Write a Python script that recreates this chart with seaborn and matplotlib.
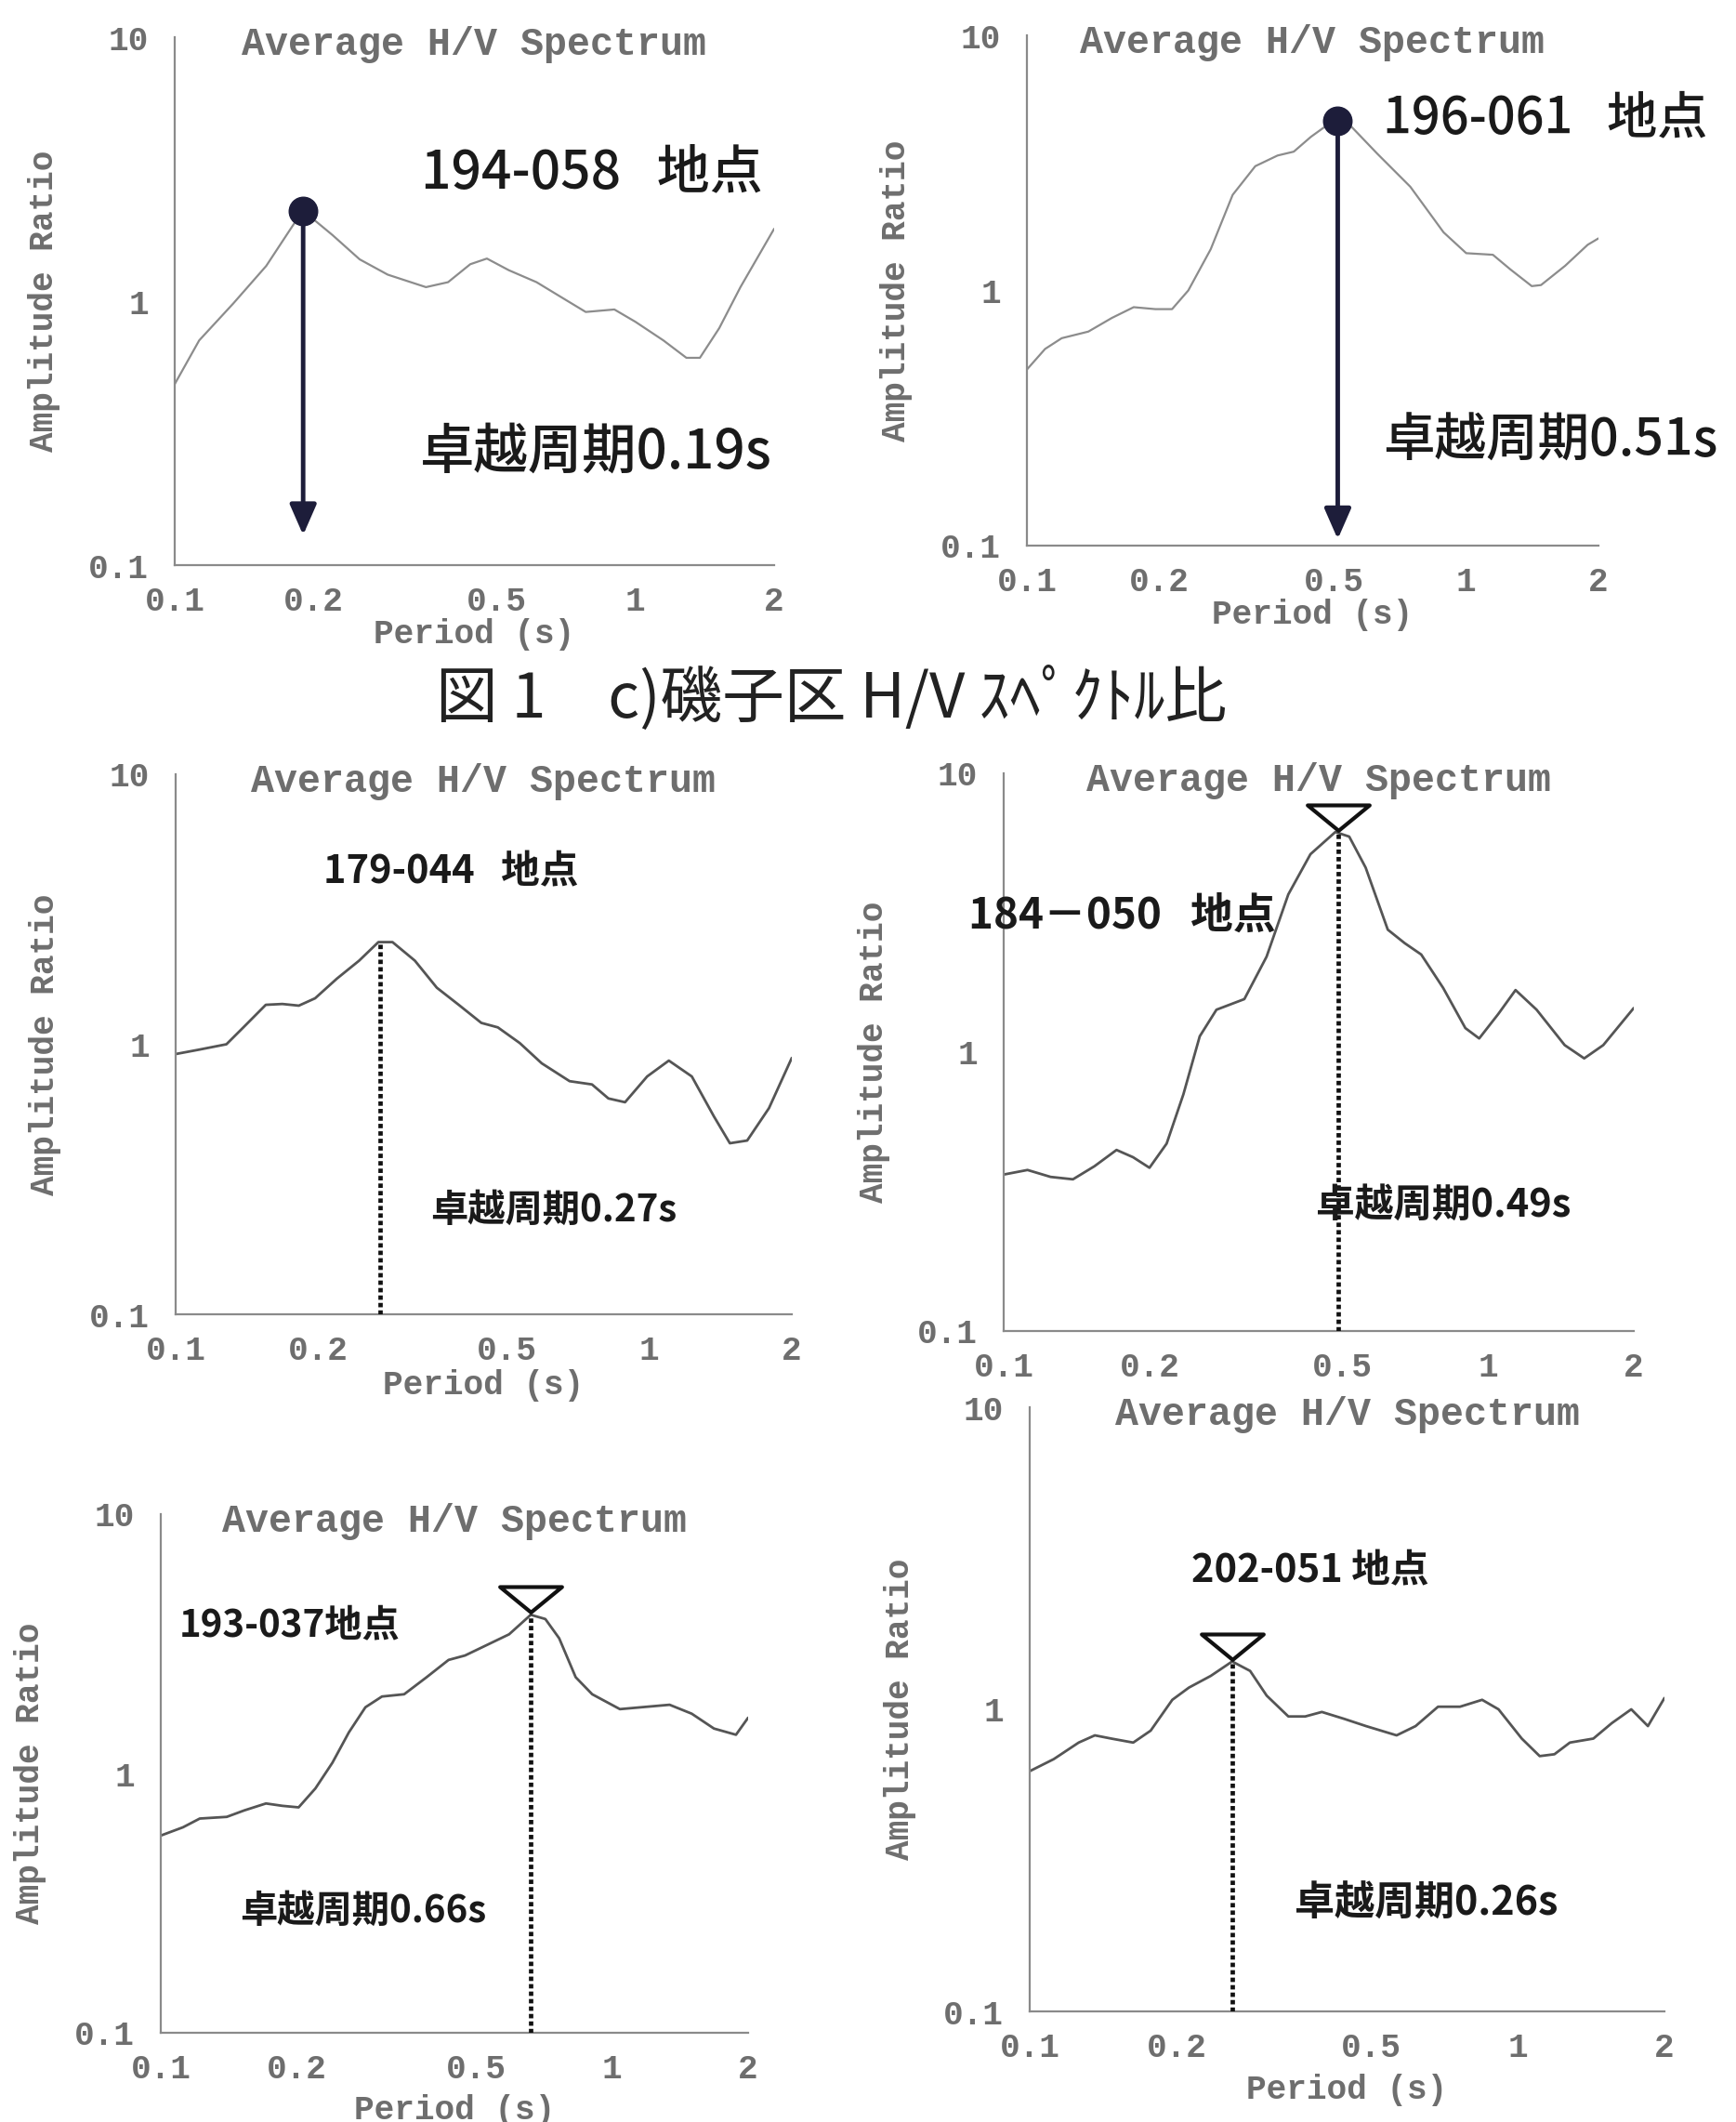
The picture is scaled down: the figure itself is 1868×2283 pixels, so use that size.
import numpy as np
import pandas as pd
import matplotlib
matplotlib.use("Agg")
import matplotlib.pyplot as plt
from matplotlib.path import Path
from matplotlib.ticker import LogLocator, NullFormatter
import seaborn as sns

# ---- H/V spectral ratios (period in s, amplitude ratio) ----
p1_period = [0.1, 0.113, 0.134, 0.158, 0.181, 0.19, 0.22, 0.252, 0.29, 0.351, 0.392, 0.438, 0.476,
             0.531, 0.61, 0.70, 0.78, 0.90, 1.0, 1.15, 1.29, 1.38, 1.52, 1.69, 2.0]
p1_ratio = [0.485, 0.71, 0.98, 1.36, 1.95, 2.2, 1.78, 1.44, 1.26, 1.13, 1.18, 1.38, 1.45,
            1.31, 1.18, 1.02, 0.91, 0.93, 0.835, 0.71, 0.61, 0.61, 0.79, 1.13, 1.88]

p2_period = [0.1, 0.11, 0.12, 0.138, 0.156, 0.175, 0.196, 0.214, 0.233, 0.262, 0.294, 0.331, 0.372,
             0.405, 0.443, 0.5, 0.542, 0.627, 0.746, 0.888, 1.0, 1.15, 1.26, 1.41, 1.48, 1.68, 1.89, 2.0]
p2_ratio = [0.49, 0.59, 0.65, 0.69, 0.78, 0.86, 0.845, 0.845, 1.0, 1.45, 2.37, 3.07, 3.38,
            3.5, 4.0, 4.65, 4.47, 3.44, 2.55, 1.69, 1.40, 1.38, 1.21, 1.04, 1.05, 1.25, 1.51, 1.6]

p3_period = [0.1, 0.112, 0.128, 0.139, 0.155, 0.168, 0.182, 0.197, 0.219, 0.244, 0.268, 0.287, 0.32,
             0.356, 0.396, 0.442, 0.479, 0.533, 0.593, 0.679, 0.757, 0.82, 0.889, 0.99, 1.10, 1.23,
             1.37, 1.48, 1.61, 1.79, 2.0]
p3_ratio = [0.92, 0.955, 1.0, 1.155, 1.40, 1.41, 1.39, 1.48, 1.75, 2.04, 2.39, 2.39, 2.04,
            1.62, 1.40, 1.20, 1.155, 1.01, 0.85, 0.73, 0.71, 0.63, 0.61, 0.76, 0.87, 0.76,
            0.54, 0.43, 0.44, 0.58, 0.89]

p4_period = [0.1, 0.112, 0.125, 0.139, 0.154, 0.171, 0.185, 0.2, 0.217, 0.235, 0.254, 0.275, 0.314,
             0.349, 0.387, 0.43, 0.484, 0.517, 0.559, 0.621, 0.673, 0.728, 0.808, 0.898, 0.959,
             1.05, 1.14, 1.26, 1.44, 1.58, 1.73, 2.0]
p4_ratio = [0.364, 0.378, 0.357, 0.35, 0.39, 0.446, 0.42, 0.385, 0.47, 0.706, 1.14, 1.42, 1.55,
            2.2, 3.68, 5.13, 6.16, 5.93, 4.59, 2.75, 2.46, 2.24, 1.70, 1.22, 1.12,
            1.37, 1.67, 1.42, 1.06, 0.95, 1.06, 1.44]

p5_period = [0.1, 0.112, 0.122, 0.140, 0.153, 0.171, 0.186, 0.202, 0.220, 0.240, 0.261, 0.284, 0.309,
             0.346, 0.388, 0.434, 0.472, 0.528, 0.591, 0.66, 0.711, 0.763, 0.83, 0.903, 1.04,
             1.16, 1.34, 1.50, 1.68, 1.88, 2.0]
p5_ratio = [0.576, 0.62, 0.67, 0.68, 0.72, 0.766, 0.75, 0.74, 0.875, 1.10, 1.44, 1.80, 1.98,
            2.02, 2.35, 2.74, 2.85, 3.13, 3.44, 4.09, 3.94, 3.32, 2.35, 2.02, 1.77,
            1.8, 1.84, 1.70, 1.49, 1.41, 1.64]

p6_period = [0.1, 0.112, 0.126, 0.136, 0.147, 0.163, 0.177, 0.196, 0.212, 0.235, 0.26, 0.283, 0.306,
             0.339, 0.367, 0.397, 0.441, 0.489, 0.565, 0.618, 0.687, 0.762, 0.846, 0.914, 1.02,
             1.11, 1.19, 1.28, 1.43, 1.56, 1.71, 1.85, 2.0]
p6_ratio = [0.624, 0.684, 0.776, 0.82, 0.80, 0.776, 0.85, 1.075, 1.18, 1.29, 1.44, 1.34, 1.11,
            0.947, 0.947, 0.98, 0.93, 0.88, 0.82, 0.88, 1.02, 1.02, 1.075, 1.0, 0.80,
            0.70, 0.71, 0.776, 0.80, 0.90, 1.0, 0.88, 1.09]

site_names = ["194-058   地点", "196-061   地点", "179-044   地点",
              "184－050   地点", "193-037地点", "202-051 地点"]
peak_periods = [0.19, 0.51, 0.27, 0.49, 0.66, 0.26]
peak_marks = ["arrow", "arrow", "dotted", "triangle", "triangle", "triangle"]

x_ticks = [0.1, 0.2, 0.5, 1, 2]
x_tick_labels = ["0.1", "0.2", "0.5", "1", "2"]
y_ticks = [0.1, 1, 10]
y_tick_labels = ["0.1", "1", "10"]

title_text = "Average H/V Spectrum"
x_label = "Period (s)"
y_label = "Amplitude Ratio"
caption = "図 1　c)磯子区 H/V ｽﾍﾟｸﾄﾙ比"

periods = [p1_period, p2_period, p3_period, p4_period, p5_period, p6_period]
ratios = [p1_ratio, p2_ratio, p3_ratio, p4_ratio, p5_ratio, p6_ratio]

# ---- figure / layout (pixel boxes: left, top, right, bottom) ----
W, H, DPI = 1868, 2283, 100
sns.set_theme(style="white")
plt.rcParams["font.family"] = ["Liberation Mono", "Noto Sans CJK JP", "DejaVu Sans"]
JP = ["Noto Sans CJK JP", "DejaVu Sans"]

panels = [
    dict(box=(188, 40, 833, 608), xlab=75, line="#8c8c8c", lw=1.6,
         site=((637, 186), 41, "medium"), peak=((641, 487), 42, "medium"), tip=0.13),
    dict(box=(1105, 38, 1720, 587), xlab=74, line="#8c8c8c", lw=1.6,
         site=((1663, 127), 39, "medium"), peak=((1668, 475), 40, "medium"), tip=0.106),
    dict(box=(189, 833, 852, 1414), xlab=76, line="#555555", lw=2.0,
         site=((485, 938), 30, "bold"), peak=((596, 1302), 29, "bold")),
    dict(box=(1080, 832, 1758, 1432), xlab=None, line="#555555", lw=2.0,
         site=((1207, 986), 33, "bold"), peak=((1553, 1297), 30, "bold")),
    dict(box=(173, 1629, 805, 2187), xlab=83, line="#555555", lw=2.0,
         site=((312, 1749), 29, "bold"), peak=((391, 2056), 29, "bold")),
    dict(box=(1108, 1514, 1791, 2164), xlab=84, line="#555555", lw=2.0,
         site=((1410, 1690), 30, "bold"), peak=((1535, 2048), 31, "bold")),
]

AXIS_GRAY = "#8a8a8a"
TEXT_GRAY = "#6e6e6e"
NAVY = "#1d1d3a"

# flat, open, downward-pointing triangle sitting just above its anchor point
tri_marker = Path([(0, 0.08), (-1, 0.9), (1, 0.9), (0, 0.08)],
                  [Path.MOVETO, Path.LINETO, Path.LINETO, Path.CLOSEPOLY])

fig = plt.figure(figsize=(W / DPI, H / DPI), dpi=DPI)
fig.patch.set_facecolor("white")


def fx(px):
    return px / W


def fy(py):
    return 1 - py / H


for i, spec in enumerate(panels):
    l, t, r, b = spec["box"]
    ax = fig.add_axes([fx(l), fy(b), (r - l) / W, (b - t) / H])
    df = pd.DataFrame({"period": periods[i], "ratio": ratios[i]})
    sns.lineplot(data=df, x="period", y="ratio", ax=ax, color=spec["line"],
                 linewidth=spec["lw"], estimator=None, sort=True)
    ax.set_xscale("log")
    ax.set_yscale("log")
    ax.set_xlim(0.1, 2)
    ax.set_ylim(0.1, 10)

    ax.set_xticks(x_ticks)
    ax.set_xticklabels(x_tick_labels)
    ax.set_yticks(y_ticks)
    ax.set_yticklabels(y_tick_labels)
    ax.xaxis.set_minor_locator(LogLocator(base=10, subs=np.arange(2, 10)))
    ax.yaxis.set_minor_locator(LogLocator(base=10, subs=np.arange(2, 10)))
    ax.xaxis.set_minor_formatter(NullFormatter())
    ax.yaxis.set_minor_formatter(NullFormatter())
    ax.tick_params(which="both", direction="in", color=AXIS_GRAY)
    ax.tick_params(which="major", length=9, width=1.6, labelsize=26,
                   labelcolor=TEXT_GRAY)
    ax.tick_params(axis="x", which="major", pad=16)
    ax.tick_params(axis="y", which="major", pad=20)
    ax.tick_params(which="minor", length=5, width=1.2)
    for lab in ax.get_xticklabels() + ax.get_yticklabels():
        lab.set_fontweight("bold")

    sns.despine(ax=ax)
    for side in ("left", "bottom"):
        ax.spines[side].set_color(AXIS_GRAY)
        ax.spines[side].set_linewidth(1.6)
    ax.set_facecolor("none")

    # axis labels
    ax.set_ylabel(y_label, fontsize=26, fontweight="bold", color=TEXT_GRAY)
    ax.yaxis.label.set_va("center")
    ax.yaxis.set_label_coords(-140 / (r - l), 0.5)
    if spec["xlab"] is not None:
        ax.set_xlabel(x_label, fontsize=26, fontweight="bold", color=TEXT_GRAY)
        ax.xaxis.label.set_va("center")
        ax.xaxis.set_label_coords(0.5, -spec["xlab"] / (b - t))
    else:
        ax.set_xlabel("")

    fig.text(fx((l + r) / 2), fy(t + 8), title_text, ha="center", va="center",
             fontsize=30, fontweight="bold", color=TEXT_GRAY)

    # dominant period marker
    T = peak_periods[i]
    v = float(np.exp(np.interp(np.log(T), np.log(periods[i]), np.log(ratios[i]))))
    kind = peak_marks[i]
    if kind == "arrow":
        ax.annotate("", xy=(T, spec["tip"]), xytext=(T, v),
                    arrowprops=dict(arrowstyle="-|>,head_length=0.8,head_width=0.35",
                                    color=NAVY, lw=3.5, mutation_scale=25,
                                    shrinkA=0, shrinkB=0))
        ax.plot([T], [v], marker="o", ms=22, color=NAVY, zorder=5)
    else:
        ax.vlines(T, 0.1, v, colors="#111111", linestyles=(0, (1, 0.7)),
                  linewidth=3.4, zorder=4)
        if kind == "triangle":
            ax.plot([T], [v], marker=tri_marker, ms=48, mfc="white",
                    mec="#111111", mew=3, zorder=6, clip_on=False)

    # site and dominant-period annotations
    (sx, sy), ssz, sw = spec["site"]
    fig.text(fx(sx), fy(sy), site_names[i], ha="center", va="center",
             fontsize=ssz, fontweight=sw, color="#1a1a1a", family=JP)
    (qx, qy), qsz, qw = spec["peak"]
    fig.text(fx(qx), fy(qy), "卓越周期{:.2f}s".format(T), ha="center", va="center",
             fontsize=qsz, fontweight=qw, color="#1a1a1a", family=JP)

fig.text(fx(895), fy(752), caption, ha="center", va="center",
         fontsize=48, color="#222222", family=JP)

fig.savefig("out.png", dpi=DPI, facecolor="white")
